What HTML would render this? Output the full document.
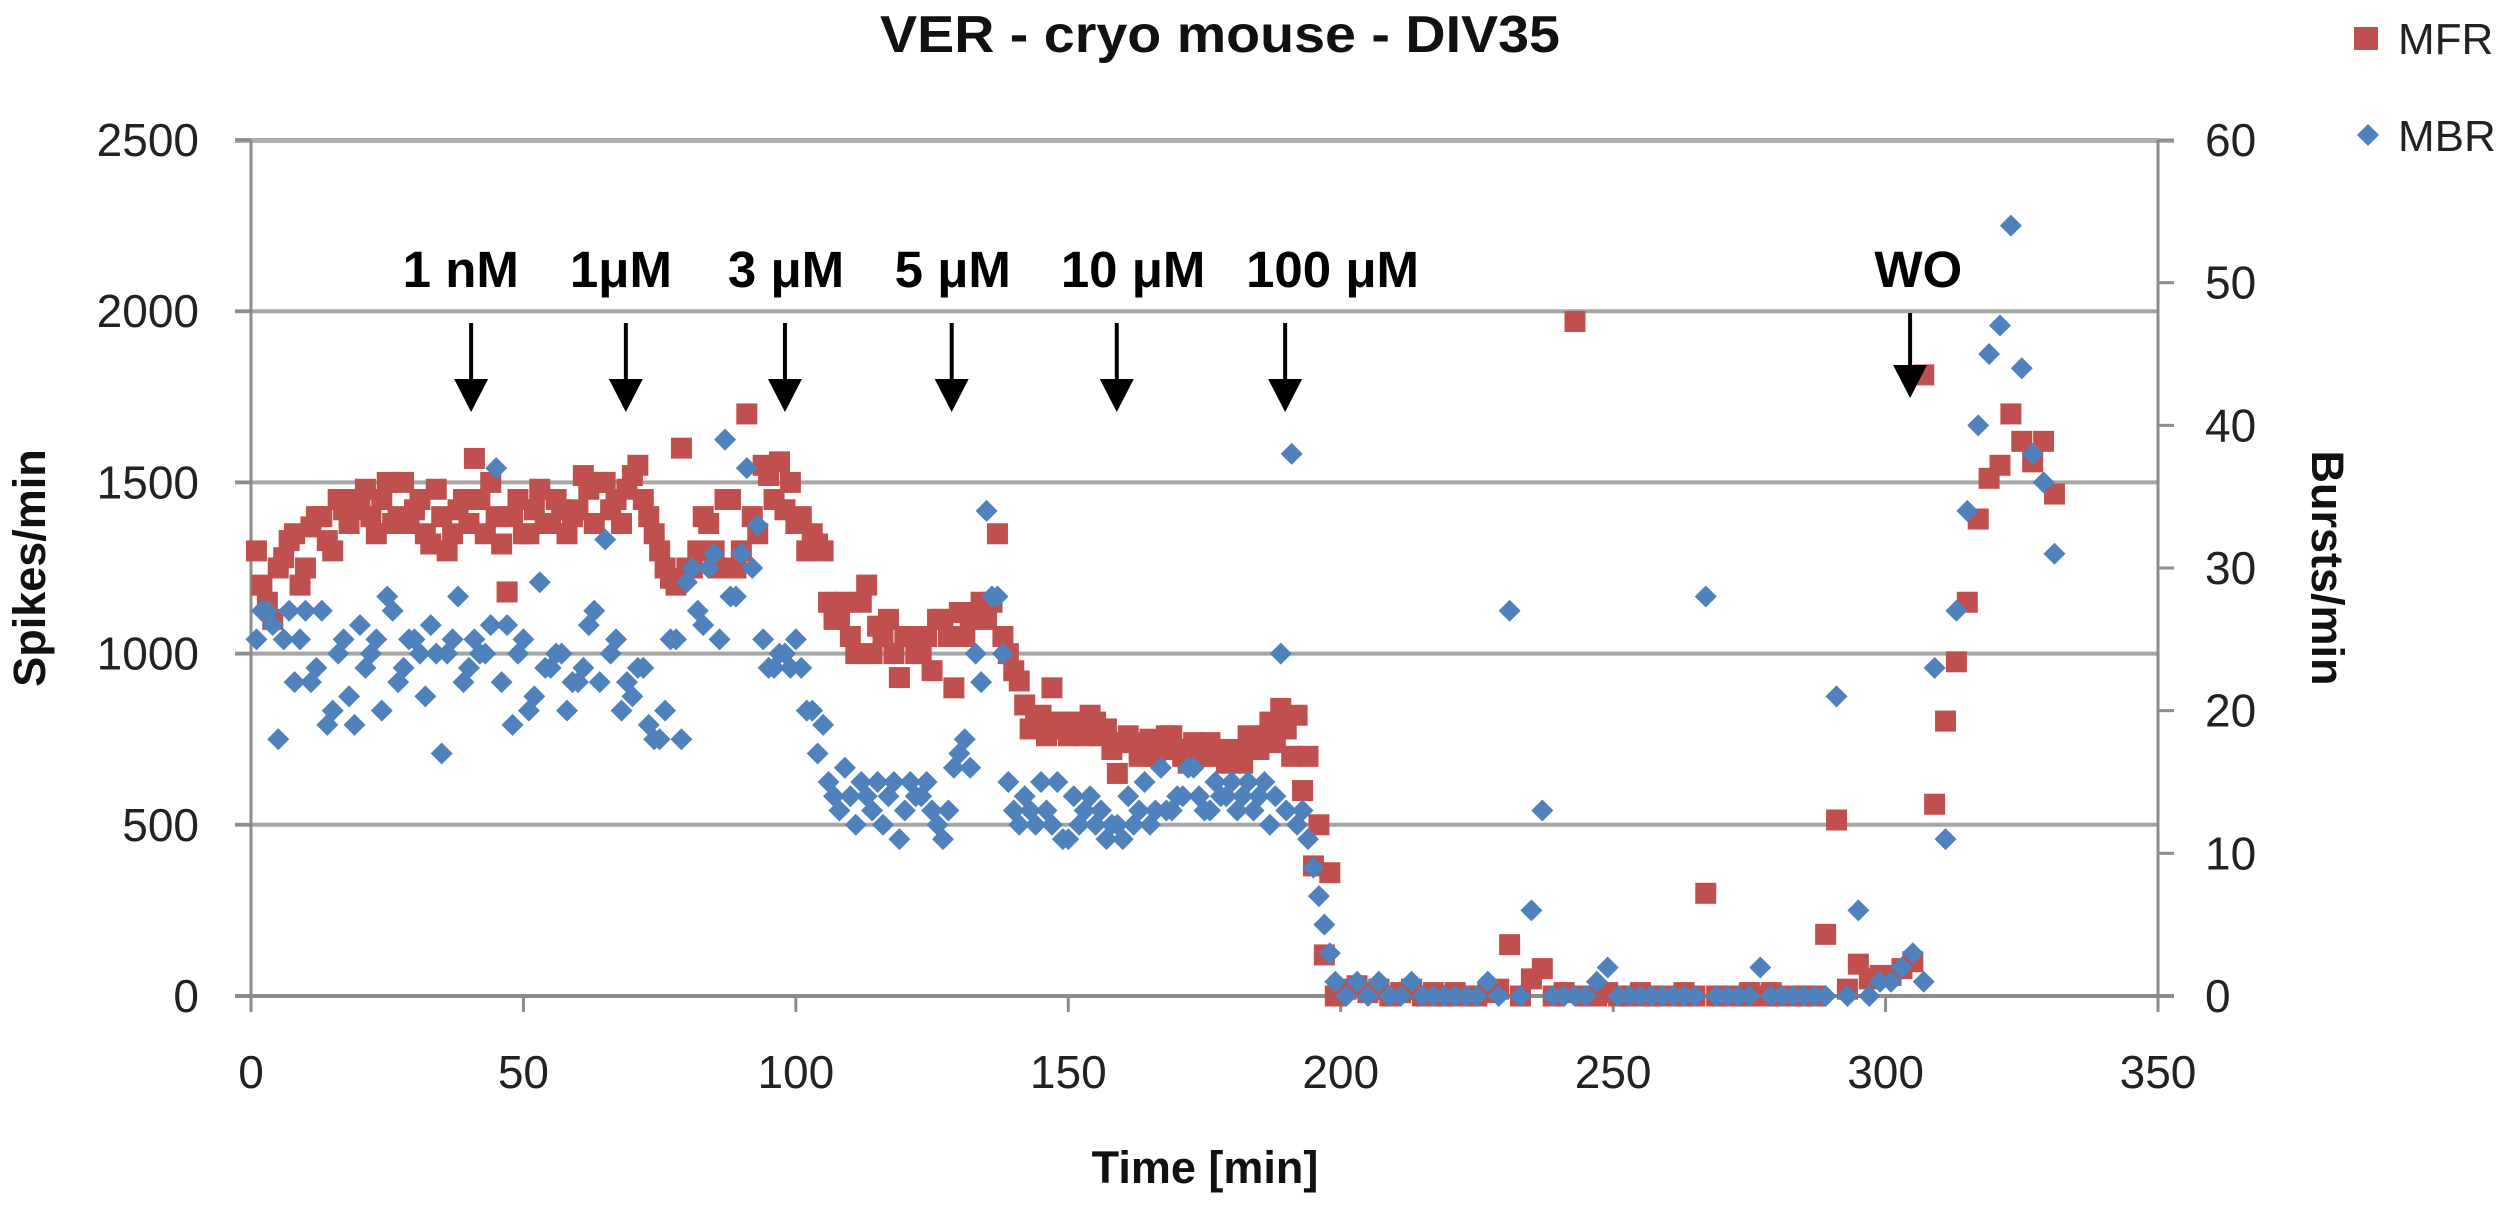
<!DOCTYPE html>
<html><head><meta charset="utf-8"><style>
html,body{margin:0;padding:0;background:#fff;}
svg{display:block;font-family:"Liberation Sans",sans-serif;}
</style></head><body>
<svg id="chart" width="2500" height="1212" viewBox="0 0 2500 1212" xmlns="http://www.w3.org/2000/svg">
<rect width="2500" height="1212" fill="#fff"/>
<g id="grid"></g>
<g id="axes"></g>
<g id="marks"></g>
<g id="annot"></g>
<text x="1220" y="52" text-anchor="middle" font-size="52" font-weight="bold" fill="#111" textLength="680" lengthAdjust="spacingAndGlyphs">VER  - cryo mouse - DIV35</text>
<text transform="translate(45,568) rotate(-90)" text-anchor="middle" font-size="45" font-weight="bold" fill="#111">Spikes/min</text>
<text transform="translate(2312,568) rotate(90)" text-anchor="middle" font-size="45" font-weight="bold" fill="#111">Bursts/min</text>
<text x="1205" y="1183" text-anchor="middle" font-size="45" font-weight="bold" fill="#111">Time [min]</text>
<g>
<rect x="2354" y="27" width="24" height="23" fill="#C0504D"/>
<text x="2398" y="54" font-size="44" fill="#222">MFR</text>
<polygon points="2368,124 2379,135 2368,146 2357,135" fill="#4F81BD"/>
<text x="2398" y="151" font-size="44" fill="#222">MBR</text>
</g>
</svg>
<script>
const mfrTimes = [1,3,5,7,9,11,13,15,17,19,21,23,25,27,29,31,33,35,37,39,41,43,45,47,49,51,53,55,57,59,61,63,65,67,69,71,73,75,77,79,81,83,85,87,89,91,93,95,97,99,101,103,105,107,109,111,113,115,117,119,121,123,125,127,129,131,133,135,137,139,141,143,145,147,149,151,153,155,157,159,161,163,165,167,169,171,173,175,177,179,181,183,185,187,189,191,193,195,197,199,201,203,205,207,209,211,213,215,217,219,221,223,225,227,229,231,233,235,237,239,241,243,245,247,249,251,253,255,257,259,261,263,265,267,269,271,273,275,277,279,281,283,285,287,289,291,293,295,297,299,301,303,305,307,309,311,313,315,317,319,321,323,325,327,329,331];
const mfrValues = [1300,1150,1250,1330,1200,1370,1400,1300,1420,1450,
1480,1350,1500,1400,1380,1450,1320,1400,1350,1450,
1570,1350,1400,1180,1450,1350,1480,1380,1420,1400,
1520,1380,1500,1450,1480,1550,1400,1300,1220,1600,
1250,1400,1300,1450,1250,1700,1350,1520,1560,1500,
1400,1350,1300,1100,1150,1000,1200,1080,1100,930,
1050,1000,950,1100,900,1050,1120,1100,1350,1000,
920,780,820,900,780,800,760,800,780,650,
760,700,750,720,760,700,740,700,720,680,
700,760,720,800,840,700,600,380,120,0,
20,30,10,20,0,10,20,0,10,0,
10,0,0,10,20,150,0,50,80,0,
10,1970,0,0,10,0,0,10,0,0,
0,10,0,300,0,0,0,10,0,10,
0,0,0,0,180,514,20,93,50,60,
60,80,100,1814,560,803,976,1150,1393,1512,
1550,1700,1620,1560,1620,1466];
const mfrTimes2 = [2,4,6,8,10,12,14,16,18,20,22,24,26,28,30,32,34,36,38,40,42,44,46,48,50,52,54,56,58,60,62,64,66,68,70,72,74,76,78,80,82,84,86,88,90,92,94,96,98,100,102,104,106,108,110,112,114,116,118,120,122,124,126,128,130,132,134,136,138,140,142,144,146,148,150,152,154,156,158,160,162,164,166,168,170,172,174,176,178,180,182,184,186,188,190,192,194,196,198];
const mfrValues2 = [1200,1100,1280,1350,1250,1400,1330,1450,1380,1420,
1400,1450,1380,1500,1420,1350,1480,1300,1420,1380,
1450,1500,1320,1400,1350,1420,1380,1450,1350,1420,
1480,1500,1420,1380,1520,1450,1350,1250,1200,1250,
1300,1380,1250,1450,1300,1400,1550,1450,1420,1380,
1300,1320,1150,1100,1050,1150,1000,1050,1000,1050,
1000,1050,1100,1050,1120,1100,1150,1150,1050,950,
850,800,760,800,760,780,820,760,720,740,
740,720,700,760,720,680,700,740,700,720,
680,720,760,740,780,820,700,500,360];
const mbrTimes = mfrTimes;
const mbrValues = [25,27,18,27,25,22,27,20,25,19,
23,25,28,22,25,24,26,17,25,22,
25,24,37,26,24,20,29,23,24,22,
23,27,32,25,22,23,19,18,25,18,
30,26,31,39,28,37,33,23,24,23,
23,20,19,14,16,12,14,15,14,11,
15,14,13,11,16,18,24,34,28,15,
12,13,15,12,11,14,13,12,11,12,
14,13,12,16,13,14,16,13,15,14,
13,15,14,12,24,38,13,9,5,1,
0,1,0,1,0,0,1,0,0,0,
0,0,0,1,0,27,0,6,13,0,
0,0,0,1,2,0,0,0,0,0,
0,0,0,28,0,0,0,0,2,0,
0,0,0,0,0,21,0,6,0,1,
1,2,3,1,23,11,27,34,40,45,
47,54,44,38,36,31];
const mbrTimes2 = mfrTimes2;
const mbrValues2 = [27,26,25,22,27,23,19,24,21,26,
24,20,27,23,25,21,24,24,28,23,
24,26,22,19,25,21,23,24,20,22,
26,22,24,20,21,23,18,20,25,29,
27,30,25,28,31,30,25,23,24,25,
20,17,15,13,14,15,13,12,15,13,
14,15,12,13,17,16,22,28,24,13,
14,12,13,15,11,12,14,13,12,11,
12,15,13,13,14,16,14,13,14,15,
14,13,15,14,13,12,11,7,3];
const xTicks = [0,50,100,150,200,250,300,350];
const yLeftTicks = [0,500,1000,1500,2000,2500];
const yRightTicks = [0,10,20,30,40,50,60];
const annLabels = ["1 nM","1\u03bcM","3 \u03bcM","5 \u03bcM","10 \u03bcM","100 \u03bcM","WO"];
const annTimes = [40.4,68.8,98,128.6,158.9,189.8,304.5];
const annLabelTimes = [38.5,67.9,98.2,128.8,161.9,198.5,306.0];

const SVGNS="http://www.w3.org/2000/svg";
const X0=251, X1=2158, YB=996, YT=140;
function xs(t){return X0+t*(X1-X0)/350;}
function yl(v){return YB-v*(YB-YT)/2500;}
function yr(v){return YB-v*(YB-YT)/60;}
function mk(tag,attrs,parent){const e=document.createElementNS(SVGNS,tag);for(const k in attrs)e.setAttribute(k,attrs[k]);parent.appendChild(e);return e;}
const grid=document.getElementById('grid'),axes=document.getElementById('axes'),marks=document.getElementById('marks'),annot=document.getElementById('annot');

yLeftTicks.forEach(v=>{
  if(v>0){const g=mk('line',{x1:X0-16,x2:X1,y1:yl(v),y2:yl(v),stroke:'#a6a6a6','stroke-width':4},grid);
  
  }
  const tk=mk('line',{x1:X0-16,x2:X0,y1:yl(v),y2:yl(v),stroke:'#8c8c8c','stroke-width':3},axes);
  
  
  const t=mk('text',{x:199,y:yl(v)+16,'text-anchor':'end','font-size':46,fill:'#222'},axes);
  t.textContent=v;
  
  
});
yRightTicks.forEach(v=>{
  const tk=mk('line',{x1:X1,x2:X1+16,y1:yr(v),y2:yr(v),stroke:'#8c8c8c','stroke-width':3},axes);
  
  
  const t=mk('text',{x:2205,y:yr(v)+16,'font-size':46,fill:'#222'},axes);
  t.textContent=v;
  
  
});
xTicks.forEach(v=>{
  const tk=mk('line',{x1:xs(v),x2:xs(v),y1:YB,y2:YB+16,stroke:'#8c8c8c','stroke-width':3},axes);
  
  
  const t=mk('text',{x:xs(v),y:1088,'text-anchor':'middle','font-size':46,fill:'#222'},axes);
  t.textContent=v;
  
  
});
const la=mk('line',{x1:X0,x2:X0,y1:YT,y2:YB+16,stroke:'#8c8c8c','stroke-width':3},axes);


const ra=mk('line',{x1:X1,x2:X1,y1:YT,y2:YB,stroke:'#8c8c8c','stroke-width':3},axes);


const xa=mk('line',{x1:X0-16,x2:X1+16,y1:YB,y2:YB,stroke:'#8c8c8c','stroke-width':4},axes);


const topLine=mk('line',{x1:X0-16,x2:X1+16,y1:YT+1,y2:YT+1,stroke:'#b0b0b0','stroke-width':4},grid);



function drawMFR(times,vals){
  times.forEach((t,i)=>{
    const x=xs(t),y=yl(vals[i]);
    const r=mk('rect',{x:x-10.5,y:y-10.5,width:21,height:21,fill:'#C0504D'},marks);
    
    
  });
}
function drawMBR(times,vals){
  times.forEach((t,i)=>{
    const x=xs(t),y=yr(vals[i]);
    const p=mk('polygon',{points:`${x},${y-11} ${x+11},${y} ${x},${y+11} ${x-11},${y}`,fill:'#4F81BD'},marks);
    
    
  });
}
drawMFR(mfrTimes,mfrValues);
drawMFR(mfrTimes2,mfrValues2);
drawMBR(mbrTimes,mbrValues);
drawMBR(mbrTimes2,mbrValues2);

annLabels.forEach((lab,i)=>{
  const ax=xs(annTimes[i]);
  const isWO=lab==='WO';
  const y0=isWO?313:323, tip=isWO?398:412;
  const l=mk('line',{x1:ax,x2:ax,y1:y0,y2:tip-30,stroke:'#000','stroke-width':4},annot);
  
  
  const h=mk('polygon',{points:`${ax-17},${tip-33} ${ax+17},${tip-33} ${ax},${tip}`,fill:'#000'},annot);
  
  
  const t=mk('text',{x:xs(annLabelTimes[i]),y:287,'text-anchor':'middle','font-size':51,'font-weight':'bold',fill:'#000'},annot);
  t.textContent=lab;
  
  
});
</script>
</body></html>
